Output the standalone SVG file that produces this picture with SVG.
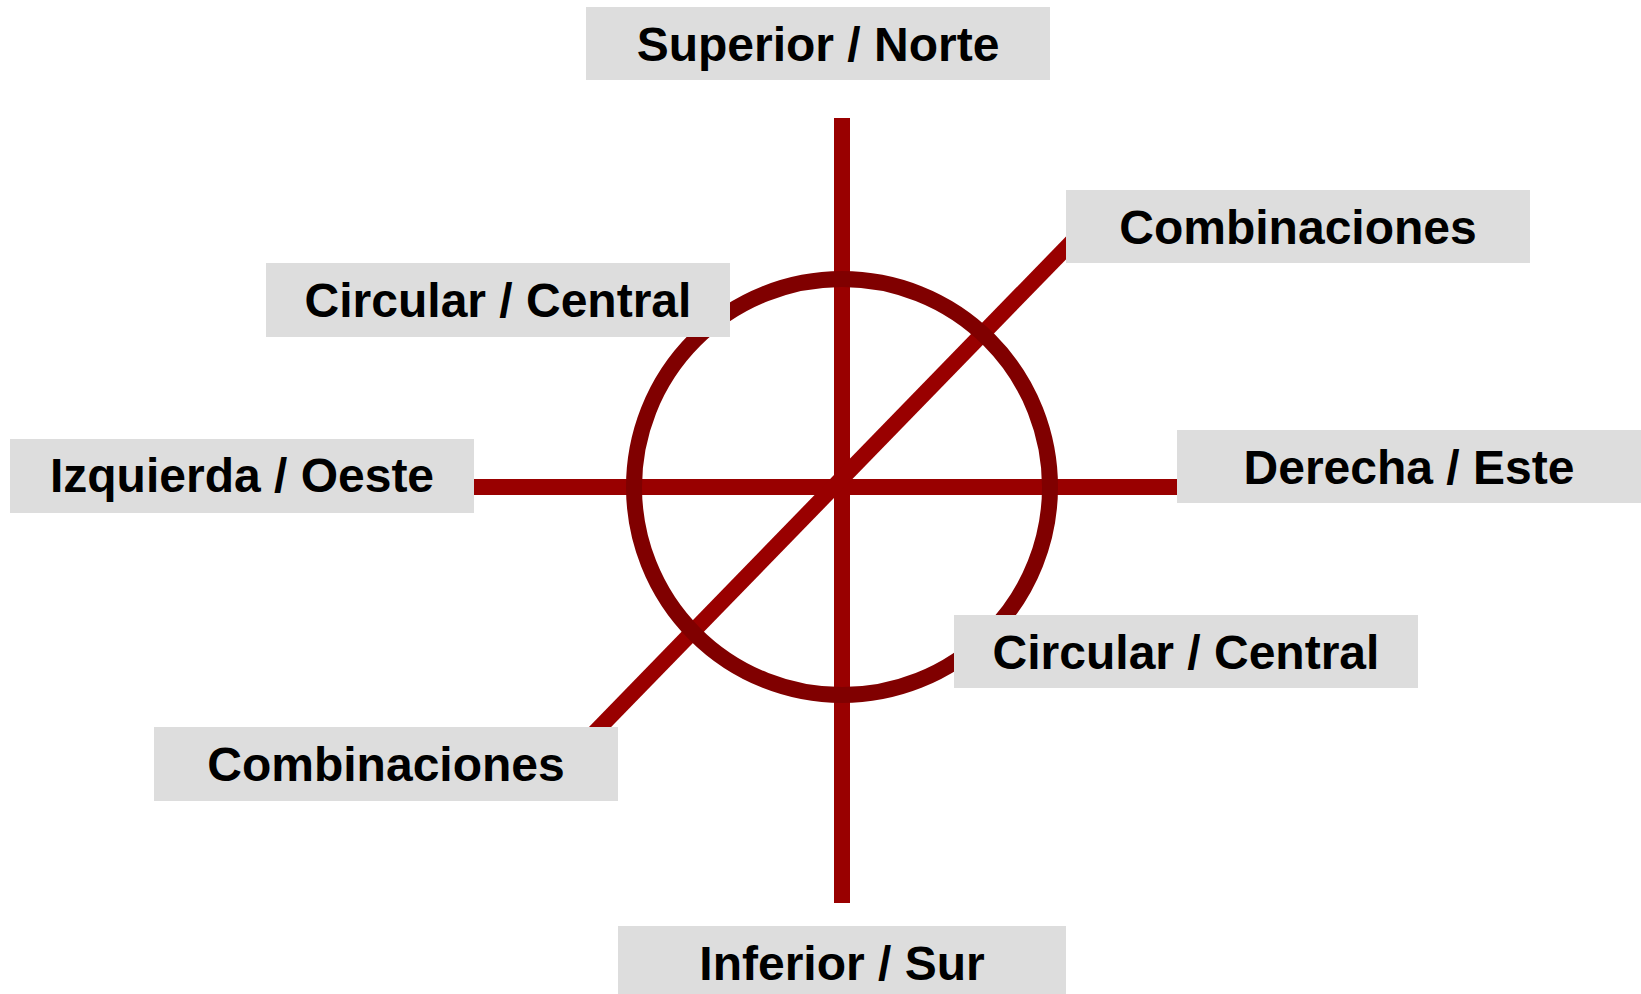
<svg xmlns="http://www.w3.org/2000/svg" width="1641" height="994" viewBox="0 0 1641 994">
<style>
.ln{stroke:#990000;stroke-width:16;fill:none}
.circ{stroke:#800000;stroke-width:16;fill:none}
.box{fill:#dddddd}
.lbl{font-family:"Liberation Sans",Arial,sans-serif;font-weight:bold;font-size:48px;fill:#000;text-anchor:middle}
</style>
<rect width="1641" height="994" fill="#ffffff"/>
<g id="connectors">
<line class="ln" x1="842" y1="118" x2="842" y2="903"/>
<line class="ln" x1="470" y1="487" x2="1181" y2="487"/>
<line class="ln" x1="590.3" y1="737" x2="1080" y2="233.6"/>
<circle class="circ" cx="842" cy="487" r="208"/>
</g>
<g id="superior"><rect class="box" x="586" y="7" width="464" height="73"/><text class="lbl" x="818" y="61">Superior / Norte</text></g>
<g id="combinaciones-ne"><rect class="box" x="1066" y="190" width="464" height="73"/><text class="lbl" x="1298" y="244">Combinaciones</text></g>
<g id="circular-nw"><rect class="box" x="266" y="263" width="464" height="74"/><text class="lbl" x="498" y="317">Circular / Central</text></g>
<g id="izquierda"><rect class="box" x="10" y="439" width="464" height="74"/><text class="lbl" x="242" y="492">Izquierda / Oeste</text></g>
<g id="derecha"><rect class="box" x="1177" y="430" width="464" height="73"/><text class="lbl" x="1409" y="484">Derecha / Este</text></g>
<g id="circular-se"><rect class="box" x="954" y="615" width="464" height="73"/><text class="lbl" x="1186" y="669">Circular / Central</text></g>
<g id="combinaciones-sw"><rect class="box" x="154" y="727" width="464" height="74"/><text class="lbl" x="386" y="781">Combinaciones</text></g>
<g id="inferior"><rect class="box" x="618" y="926" width="448" height="74"/><text class="lbl" x="842" y="980">Inferior / Sur</text></g>
</svg>
